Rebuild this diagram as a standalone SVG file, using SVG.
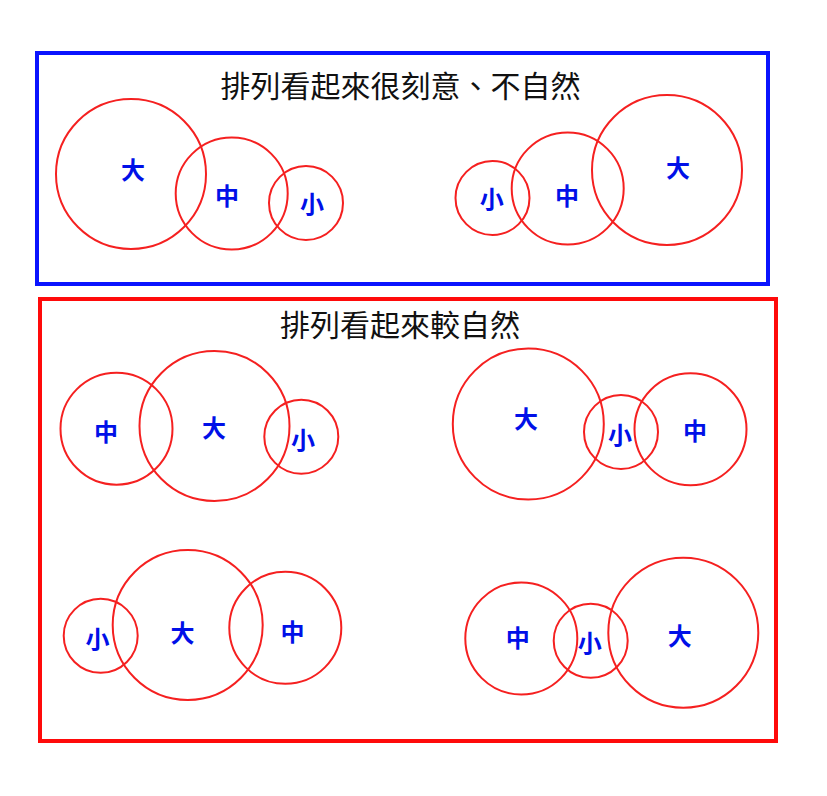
<svg xmlns="http://www.w3.org/2000/svg" width="827" height="796" viewBox="0 0 827 796">
<style>
.bg{fill:#ffffff}
.frame-blue{fill:none;stroke:#0a14ff;stroke-width:4}
.frame-red{fill:none;stroke:#ff0a0a;stroke-width:4}
.c{fill:none;stroke:#f52020;stroke-width:2}
.lbl{font-family:"Noto Sans CJK TC","Noto Sans CJK SC",sans-serif;font-size:24px;font-weight:bold;fill:#0010e8;text-anchor:middle;dominant-baseline:central}
.title{font-family:"Noto Sans CJK TC","Noto Sans CJK SC",sans-serif;font-size:30px;fill:#111111;text-anchor:middle}
</style>
<rect class="bg" x="0" y="0" width="827" height="796"/>

<g id="panel-top">
  <rect class="frame-blue" x="37" y="53" width="731" height="231"/>
  <text class="title" x="400.5" y="97">排列看起來很刻意、不自然</text>
</g>
<g id="panel-bottom">
  <rect class="frame-red" x="40" y="299" width="736" height="442"/>
  <text class="title" x="400" y="336">排列看起來較自然</text>
</g>

<!-- top-left group -->
<g id="tl-big"><circle class="c" cx="131" cy="174" r="75"/><text class="lbl" x="133" y="168">大</text></g>
<g id="tl-mid"><circle class="c" cx="231.7" cy="193.5" r="56"/><text class="lbl" x="227" y="194">中</text></g>
<g id="tl-small"><circle class="c" cx="306" cy="203" r="37"/><text class="lbl" x="312" y="202">小</text></g>

<!-- top-right group -->
<g id="tr-small"><circle class="c" cx="492.5" cy="198" r="37"/><text class="lbl" x="491.7" y="197">小</text></g>
<g id="tr-mid"><circle class="c" cx="567.7" cy="188.5" r="56"/><text class="lbl" x="567" y="194">中</text></g>
<g id="tr-big"><circle class="c" cx="667" cy="170" r="75"/><text class="lbl" x="678" y="166">大</text></g>

<!-- middle-left group -->
<g id="ml-mid"><circle class="c" cx="116.5" cy="428.7" r="56"/><text class="lbl" x="106" y="430">中</text></g>
<g id="ml-big"><circle class="c" cx="214.5" cy="426" r="75"/><text class="lbl" x="214" y="426">大</text></g>
<g id="ml-small"><circle class="c" cx="301.3" cy="436.7" r="37"/><text class="lbl" x="303" y="438.5">小</text></g>

<!-- middle-right group -->
<g id="mr-big"><circle class="c" cx="528.3" cy="424" r="75.5"/><text class="lbl" x="526" y="417">大</text></g>
<g id="mr-small"><circle class="c" cx="621" cy="432" r="37"/><text class="lbl" x="620" y="433">小</text></g>
<g id="mr-mid"><circle class="c" cx="690.5" cy="429.3" r="56"/><text class="lbl" x="695" y="429">中</text></g>

<!-- bottom-left group -->
<g id="bl-small"><circle class="c" cx="100.7" cy="635.8" r="37"/><text class="lbl" x="97.5" y="637">小</text></g>
<g id="bl-big"><circle class="c" cx="187.7" cy="625" r="75"/><text class="lbl" x="182.5" y="631">大</text></g>
<g id="bl-mid"><circle class="c" cx="285.3" cy="627.8" r="56"/><text class="lbl" x="292.5" y="630.5">中</text></g>

<!-- bottom-right group -->
<g id="br-mid"><circle class="c" cx="521.3" cy="638.5" r="56"/><text class="lbl" x="517.8" y="636">中</text></g>
<g id="br-small"><circle class="c" cx="590.7" cy="640.8" r="37"/><text class="lbl" x="589.7" y="641">小</text></g>
<g id="br-big"><circle class="c" cx="683.3" cy="632.7" r="75"/><text class="lbl" x="679.7" y="634">大</text></g>
</svg>
